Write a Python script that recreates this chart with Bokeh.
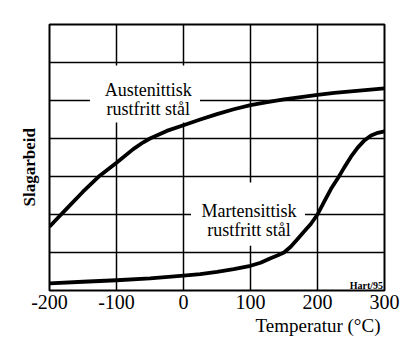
from bokeh.plotting import figure
from bokeh.models import FixedTicker, Label, BoxAnnotation, Title
from bokeh.embed import file_html
from bokeh.resources import INLINE

# Data
aust_t = [-200, -187, -175, -150, -125, -100, -75, -60, -50, -40, -25, 0, 25, 50, 75, 100,
          125, 150, 175, 200, 225, 250, 275, 300]
aust_v = [1.68, 1.92, 2.14, 2.6, 3.02, 3.36, 3.72, 3.9, 4.0, 4.08, 4.2, 4.35, 4.5, 4.64, 4.77, 4.88,
          4.96, 5.03, 5.09, 5.15, 5.2, 5.24, 5.28, 5.32]

mart_t = [-200, -150, -100, -50, 0, 25, 50, 75, 100, 115, 130, 140, 150, 160, 170, 180, 190,
          200, 210, 220, 232, 240, 250, 260, 270, 280, 290, 300]
mart_v = [0.19, 0.23, 0.27, 0.32, 0.39, 0.43, 0.49, 0.56, 0.65, 0.73, 0.85, 0.92, 1.0, 1.15, 1.35,
          1.55, 1.75, 2.0, 2.34, 2.67, 3.0, 3.24, 3.52, 3.76, 3.95, 4.08, 4.15, 4.19]

x_ticks = [-200, -100, 0, 100, 200, 300]
x_tick_labels = ["-200", "-100", "0", "100", "200", "300"]
y_grid = [0, 1, 2, 3, 4, 5, 6, 7]

FONT = "Liberation Serif"

p = figure(width=417, height=352, x_range=(-200, 300), y_range=(0, 7),
           output_backend="svg", toolbar_location=None, title=None,
           min_border_left=49, min_border_right=33, min_border_top=24, min_border_bottom=62)
p.background_fill_color = "white"
p.border_fill_color = "white"
p.outline_line_color = "black"
p.outline_line_width = 2

p.xaxis.ticker = FixedTicker(ticks=x_ticks)
p.xaxis.major_label_overrides = {t: l for t, l in zip(x_ticks, x_tick_labels)}
p.xaxis.major_label_text_font = FONT
p.xaxis.major_label_text_font_size = "20px"
p.xaxis.major_label_text_color = "black"
p.xaxis.major_tick_line_color = None
p.xaxis.minor_tick_line_color = None
p.xaxis.major_tick_out = 0
p.xaxis.major_tick_in = 0
p.xaxis.axis_line_color = None
p.xaxis.major_label_standoff = 4

p.yaxis.ticker = FixedTicker(ticks=y_grid)
p.yaxis.visible = False

for g in (p.xgrid, p.ygrid):
    g.grid_line_color = "black"
    g.grid_line_width = 1.5
    g.level = "image"
p.ygrid.ticker = FixedTicker(ticks=y_grid)

# white masks behind the curve labels
p.add_layout(BoxAnnotation(left=-139.6, right=24.6, bottom=4.42, top=5.92,
                           fill_color="white", fill_alpha=1, line_color=None, level="underlay"))
p.add_layout(BoxAnnotation(left=11.2, right=181.3, bottom=1.18, top=2.84,
                           fill_color="white", fill_alpha=1, line_color=None, level="underlay"))

p.line(aust_t, aust_v, line_color="black", line_width=3.8, line_join="round")
p.line(mart_t, mart_v, line_color="black", line_width=3.8, line_join="round")

def lab(x, y, text, size="18px", align="center", style="normal"):
    p.add_layout(Label(x=x, y=y, text=text, text_font=FONT, text_font_size=size,
                       text_align=align, text_baseline="alphabetic",
                       text_color="black", text_font_style=style))

lab(-52.5, 5.28, "Austenittisk")
lab(-52.5, 4.78, "rustfritt stål")
lab(97.8, 2.09, "Martensittisk")
lab(97.8, 1.58, "rustfritt stål")
lab(297.8, 0.12, "Hart/95", size="10px", align="right", style="bold")

p.add_layout(Title(text="Temperatur (°C)", align="left", offset=206,
                   text_font=FONT, text_font_size="19px", text_font_style="normal",
                   text_color="black", standoff=2), "below")
p.add_layout(Title(text="Slagarbeid", align="left", offset=84,
                   text_font=FONT, text_font_size="17px", text_font_style="bold",
                   text_color="black", standoff=22), "left")

open("out.html", "w").write(file_html(p, INLINE))
